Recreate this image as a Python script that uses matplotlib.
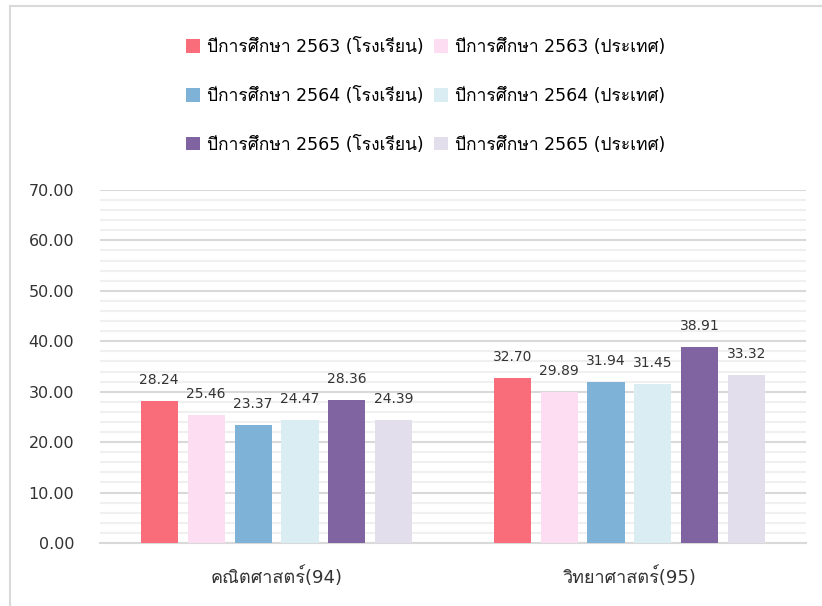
import numpy as np
import matplotlib
matplotlib.use("Agg")
import matplotlib.pyplot as plt
from matplotlib import font_manager
from matplotlib.ft2font import FT2Font
from matplotlib.lines import Line2D

# data
subjects = ["คณิตศาสตร์(94)", "วิทยาศาสตร์(95)"]
series_names = [
    "ปีการศึกษา 2563 (โรงเรียน)", "ปีการศึกษา 2563 (ประเทศ)",
    "ปีการศึกษา 2564 (โรงเรียน)", "ปีการศึกษา 2564 (ประเทศ)",
    "ปีการศึกษา 2565 (โรงเรียน)", "ปีการศึกษา 2565 (ประเทศ)",
]
school_2563 = [28.24, 32.70]
country_2563 = [25.46, 29.89]
school_2564 = [23.37, 31.94]
country_2564 = [24.47, 31.45]
school_2565 = [28.36, 38.91]
country_2565 = [24.39, 33.32]
colors = ["#F96C7A", "#FCDDF2", "#7EB2D6", "#DAEDF3", "#8064A2", "#E3DEEB"]

# find an installed font that has Thai glyphs
thai_font = None
for f in font_manager.fontManager.ttflist:
    try:
        ft = FT2Font(f.fname)
        if ft.get_char_index(ord("ก")) and ft.get_char_index(ord("ศ")):
            thai_font = f.name
            break
    except Exception:
        pass
fams = ["DejaVu Sans"]
if thai_font:
    fams = ["DejaVu Sans", thai_font]
plt.rcParams["font.family"] = fams

values = [school_2563, country_2563, school_2564, country_2564, school_2565, country_2565]

fig = plt.figure(figsize=(8.22, 6.06), dpi=100)
ax = fig.add_axes([0.1217, 0.104, 0.8588, 0.5825])

x = np.arange(len(subjects))
pitch = 0.133
width = 0.105
handles = []
for i, vals in enumerate(values):
    pos = x + (i - 2.5) * pitch
    b = ax.bar(pos, vals, width, color=colors[i], label=series_names[i], zorder=3)
    handles.append(b)
    for px, v in zip(pos, vals):
        ax.annotate(f"{v:.2f}", (px, v), xytext=(0, 10), textcoords="offset points",
                    ha="center", va="bottom", fontsize=10, color="#333333")

ax.set_xlim(-0.5, 1.5)
ax.set_ylim(0, 70)
ax.set_yticks(np.arange(0, 71, 10))
ax.set_yticklabels([f"{t:.2f}" for t in np.arange(0, 71, 10)], fontsize=11.5, color="#333333")
ax.set_yticks(np.arange(0, 71, 2), minor=True)
ax.set_xticks(x)
ax.set_xticklabels(subjects, fontsize=13, color="#333333")
ax.tick_params(axis="both", which="both", length=0)
ax.tick_params(axis="y", pad=18.5)
ax.tick_params(axis="x", pad=17)
ax.grid(axis="y", which="major", color="#D9D9D9", linewidth=1.5, zorder=0)
ax.grid(axis="y", which="minor", color="#F0F0F0", linewidth=1.5, zorder=0)
for s in ["top", "right", "left"]:
    ax.spines[s].set_visible(False)
ax.spines["bottom"].set_color("#D9D9D9")
ax.spines["bottom"].set_linewidth(1.5)

# legend laid out in rows of (school, country)
order = [0, 2, 4, 1, 3, 5]
fig.legend([handles[i] for i in order], [series_names[i] for i in order],
           loc="upper center", bbox_to_anchor=(0.518, 0.963), ncol=2, frameon=False,
           fontsize=12.5, handlelength=0.8, handleheight=0.8, handletextpad=0.4,
           columnspacing=0.6, labelspacing=1.78)

# outer frame (top and left edges visible)
fig.add_artist(Line2D([10 / 822, 1], [1 - 6 / 606, 1 - 6 / 606], color="#D9D9D9", lw=1.5))
fig.add_artist(Line2D([10 / 822, 10 / 822], [0, 1 - 6 / 606], color="#D9D9D9", lw=1.5))

fig.savefig("out.png", dpi=100)
